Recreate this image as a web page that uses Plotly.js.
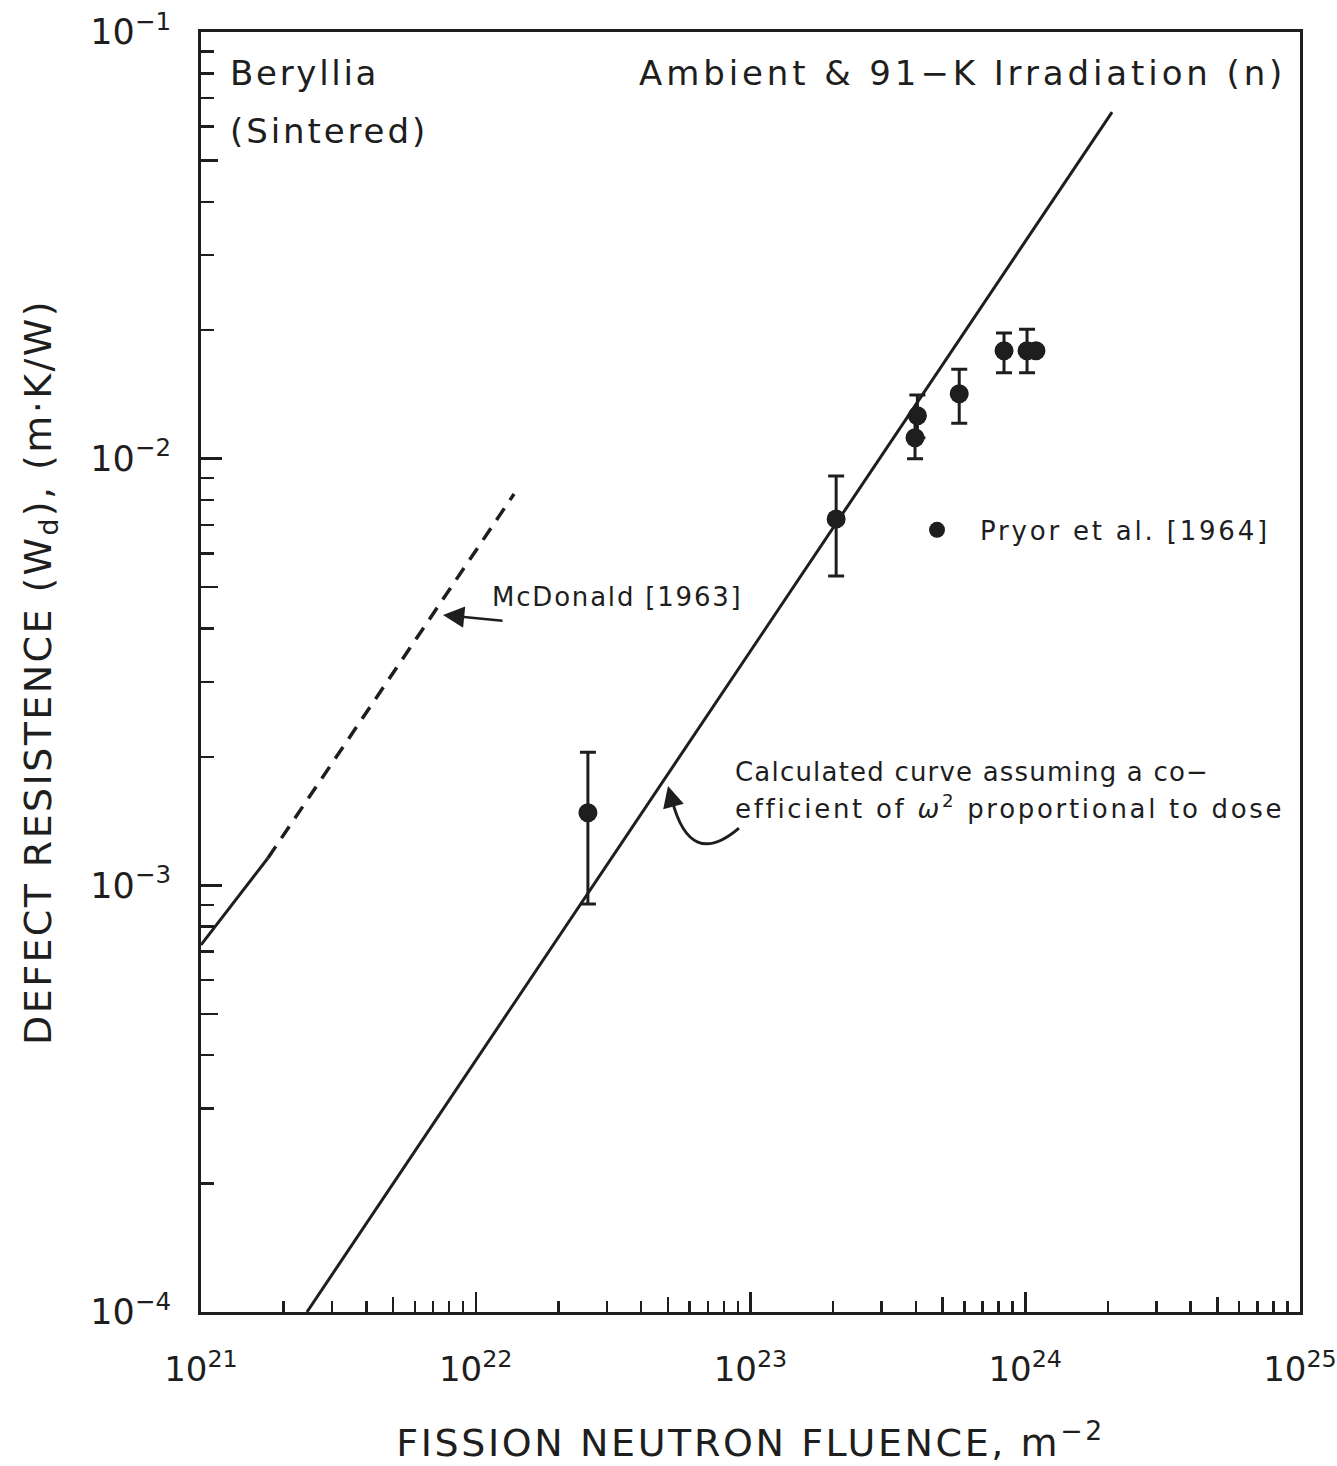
<!DOCTYPE html>
<html><head><meta charset="utf-8">
<script src="https://cdn.plot.ly/plotly-3.0.1.min.js"></script>
<style>html,body{margin:0;padding:0;background:#fff}</style>
</head><body>
<div id="chart" style="width:1337px;height:1466px"></div>
<script>
// Pryor et al. [1964] data (fluence m^-2, defect resistance m·K/W)
const pryorX    = [2.56e22, 2.05e23, 4.05e23, 3.97e23, 5.75e23, 8.37e23, 1.015e24, 1.094e24];
const pryorY    = [1.48e-3, 7.22e-3, 1.26e-2, 1.12e-2, 1.42e-2, 1.79e-2, 1.79e-2, 1.79e-2];
const pryorHigh = [2.05e-3, 9.11e-3, 1.41e-2, 1.26e-2, 1.62e-2, 1.97e-2, 2.01e-2, 1.79e-2];
const pryorLow  = [9.04e-4, 5.31e-3, 1.12e-2, 1.00e-2, 1.21e-2, 1.59e-2, 1.59e-2, 1.79e-2];

// Calculated curve
const calcX = [2.43e21, 2.07e24];
const calcY = [1.0e-4, 6.49e-2];

// McDonald [1963]
const mcSolidX = [1.0e21, 1.753e21];
const mcSolidY = [7.25e-4, 1.159e-3];
const mcDashX  = [1.753e21, 1.378e22];
const mcDashY  = [1.159e-3, 8.26e-3];

// Ticks
const xTickVals = [1e21, 1e22, 1e23, 1e24, 1e25];
const xTickText = ['10<sup>21</sup>', '10<sup>22</sup>', '10<sup>23</sup>', '10<sup>24</sup>', '10<sup>25</sup>'];
const xHalfTicks = [5e21, 5e22, 5e23, 5e24];
const yTickVals = [1e-4, 1e-3, 1e-2, 1e-1];
const yTickText = ['10<sup>−4</sup>', '10<sup>−3</sup>', '10<sup>−2</sup>', '10<sup>−1</sup>'];
const yHalfTicks = [5e-4, 5e-3, 5e-2];

const INK = '#1e1e1e';
const FONT = 'DejaVu Sans, Liberation Sans, Arial, sans-serif';

const traces = [
  {
    x: calcX, y: calcY, mode: 'lines', type: 'scatter',
    line: {color: INK, width: 3}, showlegend: false, hoverinfo: 'skip'
  },
  {
    x: mcSolidX, y: mcSolidY, mode: 'lines', type: 'scatter',
    line: {color: INK, width: 3}, showlegend: false, hoverinfo: 'skip'
  },
  {
    x: mcDashX, y: mcDashY, mode: 'lines', type: 'scatter',
    line: {color: INK, width: 3.5, dash: '14px,10px'}, showlegend: false, hoverinfo: 'skip'
  },
  {
    x: pryorX, y: pryorY, mode: 'markers', type: 'scatter',
    name: '<span style="letter-spacing:2.8px">Pryor et al. [1964]</span>',
    marker: {color: INK, size: 19, symbol: 'circle'},
    error_y: {
      type: 'data', symmetric: false,
      array: pryorHigh.map((h, i) => h - pryorY[i]),
      arrayminus: pryorY.map((v, i) => v - pryorLow[i]),
      color: INK, thickness: 3, width: 8
    },
    showlegend: true
  },
  { x: [], y: [], xaxis: 'x2', yaxis: 'y2', type: 'scatter', showlegend: false }
];

const axisCommon = {
  type: 'log', showgrid: false, zeroline: false,
  ticks: 'inside', tickcolor: INK, tickwidth: 2.5,
  fixedrange: true
};

const layout = {
  width: 1337, height: 1466,
  margin: {l: 201, r: 37, t: 32, b: 154, pad: 0},
  paper_bgcolor: '#ffffff', plot_bgcolor: '#ffffff',
  font: {family: FONT, color: INK},
  showlegend: true,
  legend: {
    x: 0.6306, y: 0.611, xanchor: 'left', yanchor: 'middle',
    bgcolor: 'rgba(0,0,0,0)', borderwidth: 0,
    font: {family: FONT, size: 26, color: INK},
    itemwidth: 76
  },
  xaxis: Object.assign({}, axisCommon, {
    range: [21, 25],
    tickmode: 'array', tickvals: xTickVals, ticktext: xTickText,
    ticklen: 20,
    tickfont: {family: FONT, size: 34, color: INK},
    ticklabelstandoff: 25,
    showline: true, linewidth: 3, linecolor: INK, mirror: true,
    minor: {ticks: 'inside', dtick: 'D1', ticklen: 11, tickwidth: 2.5, tickcolor: INK, showgrid: false},
    title: {
      text: '<span style="letter-spacing:2.6px">FISSION NEUTRON FLUENCE, m<sup>−2</sup></span>',
      font: {family: FONT, size: 38, color: INK}, standoff: 42
    }
  }),
  yaxis: Object.assign({}, axisCommon, {
    range: [-4, -1],
    tickmode: 'array', tickvals: yTickVals, ticktext: yTickText,
    ticklen: 21,
    tickfont: {family: FONT, size: 35, color: INK},
    ticklabelstandoff: 20,
    showline: true, linewidth: 3, linecolor: INK, mirror: true,
    minor: {ticks: 'inside', dtick: 'D1', ticklen: 13, tickwidth: 2.5, tickcolor: INK, showgrid: false},
    title: {
      text: '<span style="letter-spacing:2.4px">DEFECT RESISTENCE (W<sub>d</sub>), (m·K/W)</span>',
      font: {family: FONT, size: 38, color: INK}, standoff: 28
    }
  }),
  xaxis2: Object.assign({}, axisCommon, {
    overlaying: 'x', anchor: 'y', range: [21, 25],
    tickmode: 'array', tickvals: xHalfTicks, ticklen: 15,
    showticklabels: false, showline: false
  }),
  yaxis2: Object.assign({}, axisCommon, {
    overlaying: 'y', anchor: 'x', range: [-4, -1],
    tickmode: 'array', tickvals: yHalfTicks, ticklen: 17,
    showticklabels: false, showline: false
  }),
  shapes: [
    {
      type: 'path', xref: 'paper', yref: 'paper',
      path: 'M 0.4895 0.3781 Q 0.4450 0.3453 0.4286 0.4',
      line: {color: INK, width: 3}
    }
  ],
  annotations: [
    {xref: 'paper', yref: 'paper', x: 0.0246, y: 0.968, xanchor: 'left', yanchor: 'middle', showarrow: false,
     text: '<span style="letter-spacing:2.7px">Beryllia</span>', font: {family: FONT, size: 34, color: INK}},
    {xref: 'paper', yref: 'paper', x: 0.0246, y: 0.9227, xanchor: 'left', yanchor: 'middle', showarrow: false,
     text: '<span style="letter-spacing:2.9px">(Sintered)</span>', font: {family: FONT, size: 34, color: INK}},
    {xref: 'paper', yref: 'paper', x: 0.989, y: 0.968, xanchor: 'right', yanchor: 'middle', showarrow: false,
     text: '<span style="letter-spacing:3.9px">Ambient &amp; 91−K Irradiation (n)</span>', font: {family: FONT, size: 34, color: INK}},
    {xref: 'paper', yref: 'paper', x: 0.263, y: 0.5586, xanchor: 'left', yanchor: 'middle', showarrow: false,
     text: '<span style="letter-spacing:1.8px">McDonald [1963]</span>', font: {family: FONT, size: 26, color: INK}},
    {xref: 'paper', yref: 'paper', x: 0.4841, y: 0.4219, xanchor: 'left', yanchor: 'middle', showarrow: false,
     text: '<span style="letter-spacing:1.2px">Calculated curve assuming a co−</span>', font: {family: FONT, size: 26, color: INK}},
    {xref: 'paper', yref: 'paper', x: 0.4841, y: 0.3945, xanchor: 'left', yanchor: 'middle', showarrow: false,
     text: '<span style="letter-spacing:2.7px">efficient of <i>ω</i><sup>2</sup> proportional to dose</span>', font: {family: FONT, size: 26, color: INK}},
    // McDonald arrow
    {xref: 'x', yref: 'y', x: 21.8808, y: -2.3664, ax: 61, ay: 6, text: '', showarrow: true,
     arrowhead: 2, arrowsize: 1.7, arrowwidth: 2.5, arrowcolor: INK},
    // curved arrow head
    {xref: 'x', yref: 'y', x: 22.6997, y: -2.7672, ax: 4, ay: 15, text: '', showarrow: true,
     arrowhead: 2, arrowsize: 1.7, arrowwidth: 2.5, arrowcolor: INK}
  ]
};

Plotly.newPlot('chart', traces, layout, {displayModeBar: false, staticPlot: true});
</script>
</body></html>
